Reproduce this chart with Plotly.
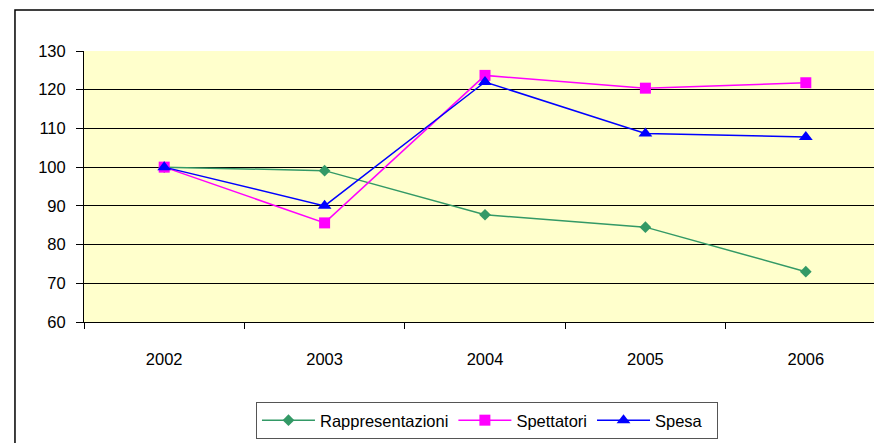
import plotly.graph_objects as go

years = ["2002", "2003", "2004", "2005", "2006"]
rappresentazioni = [100, 99.1, 87.7, 84.5, 73.0]
spettatori = [100, 85.6, 123.7, 120.4, 121.8]
spesa = [100, 90.0, 122.0, 108.7, 107.8]
y_ticks = [60, 70, 80, 90, 100, 110, 120, 130]
series_names = ["Rappresentazioni", "Spettatori", "Spesa\u00a0\u00a0"]

FONT = "Liberation Sans, Arial, sans-serif"

fig = go.Figure()
fig.add_trace(go.Scatter(x=years, y=rappresentazioni, name=series_names[0],
                         mode="lines+markers",
                         line=dict(color="#339966", width=1.5),
                         marker=dict(symbol="diamond", size=9, color="#339966")))
fig.add_trace(go.Scatter(x=years, y=spettatori, name=series_names[1],
                         mode="lines+markers",
                         line=dict(color="#FF00FF", width=1.5),
                         marker=dict(symbol="square", size=11, color="#FF00FF")))
fig.add_trace(go.Scatter(x=years, y=spesa, name=series_names[2],
                         mode="lines+markers",
                         line=dict(color="#0000FF", width=1.5),
                         marker=dict(symbol="triangle-up", size=12, color="#0000FF")))

# outer chart-area border
fig.add_shape(type="rect", xref="paper", yref="paper",
              x0=-0.0865, x1=1.2, y0=-0.6, y1=1.1513,
              line=dict(color="black", width=1.5), layer="below")

# page body has an 8px default margin, so figure is 8px smaller and margins shifted
fig.update_layout(
    width=874, height=435,
    margin=dict(l=76, r=0, t=43, b=121),
    paper_bgcolor="white",
    plot_bgcolor="#FFFFCC",
    font=dict(family=FONT, size=16.5, color="black"),
    showlegend=True,
    legend=dict(orientation="h", x=0.2155, y=-0.295, xanchor="left", yanchor="top",
                bordercolor="#555555", borderwidth=1, bgcolor="white",
                itemwidth=53,
                font=dict(family=FONT, size=16.5, color="black")),
    xaxis=dict(type="category", range=[-0.5, 4.475], showgrid=False,
               showline=True, linecolor="black", linewidth=1,
               ticks="outside", tickson="boundaries", ticklen=6, tickcolor="black",
               ticklabelstandoff=22, fixedrange=True),
    yaxis=dict(range=[60, 130], tickvals=y_ticks, showgrid=True,
               gridcolor="black", gridwidth=1,
               showline=True, linecolor="black", linewidth=1,
               ticks="outside", ticklen=7, tickcolor="black",
               ticklabelstandoff=7, zeroline=False, fixedrange=True),
)

fig.write_html("out.html")
